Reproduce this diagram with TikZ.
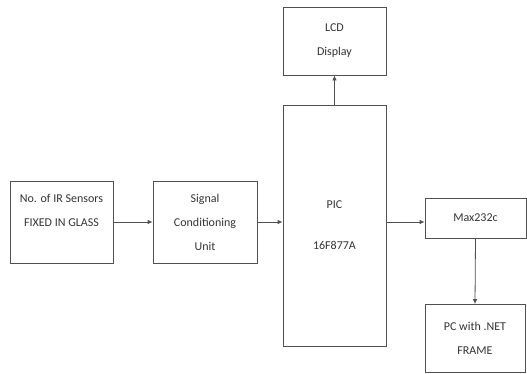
\documentclass[tikz,border=0pt]{standalone}
\usepackage{fontspec}
\setmainfont{Carlito}
\usetikzlibrary{arrows.meta}
\definecolor{blockLine}{HTML}{505050}
\definecolor{blockText}{HTML}{333333}
\tikzset{
    block/.style={draw=blockLine, line width=0.8pt, rectangle, align=center, text=blockText,
        font=\fontsize{12}{24}\selectfont, inner sep=0pt},
    link/.style={draw=blockLine, line width=0.8pt, -{Latex[length=5pt,width=4.5pt]}}
}

\begin{document}
\begin{tikzpicture}[x=1pt, y=-1pt]
            \useasboundingbox (0,0) rectangle (527,373);
            \node[block, minimum width=103pt, minimum height=82pt] (irSensors) at (61.5,222) {No. of IR Sensors\\FIXED IN GLASS\\~};
            \node[block, minimum width=104pt, minimum height=82pt] (sigCond) at (205,222) {Signal\\Conditioning\\Unit};
            \node[block, minimum width=103pt, minimum height=241pt] (pic) at (334.5,225.5) {PIC\\[17pt]16F877A};
            \node[block, minimum width=103pt, minimum height=68pt] (lcd) at (334.5,41) {LCD\\Display};
            \node[block, minimum width=101pt, minimum height=40pt] (max) at (475.5,218) {Max232c};
            \node[block, minimum width=100pt, minimum height=68pt] (pcNet) at (475,338.5) {PC with .NET\\FRAME};
            \draw[link] (irSensors.east) -- (sigCond.west);
            \draw[link] (sigCond.east) -- (sigCond.east -| pic.west);
            \draw[link] (sigCond.east -| pic.east) -- (sigCond.east -| max.west);
            \draw[link] (pic.north) -- (lcd.south);
            \draw[link] (max.south) -- (pcNet.north);
        \end{tikzpicture}
\end{document}
